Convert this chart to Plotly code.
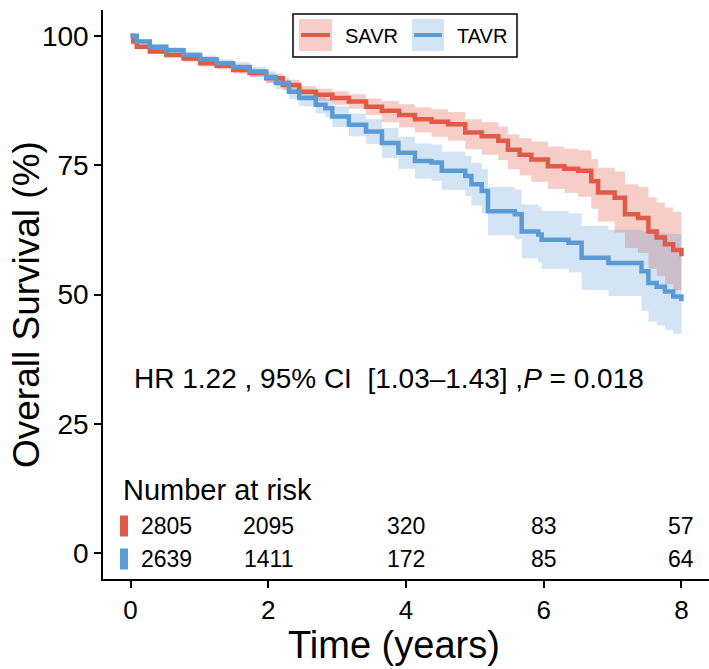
import plotly.graph_objects as go

# ---------------- data ----------------
savr_t = [0, 0.04, 0.09, 0.28, 0.52, 0.77, 1.01, 1.25, 1.49, 1.73, 1.97, 2.21, 2.45, 2.69, 2.93,
          3.17, 3.42, 3.65, 3.9, 4.13, 4.37, 4.61, 4.86, 5.1, 5.34, 5.48, 5.65, 5.82, 6.06, 6.3,
          6.5, 6.69, 6.79, 7.03, 7.18, 7.37, 7.52, 7.64, 7.76, 7.88, 8.0]
savr_s = [100, 98.9, 97.9, 97.0, 96.3, 95.6, 94.7, 94.2, 93.4, 92.8, 91.8, 90.5, 89.2, 88.6, 88.0,
          87.3, 86.3, 85.5, 84.7, 83.9, 83.4, 82.9, 81.3, 80.6, 79.7, 78.0, 77.0, 76.1, 74.8, 74.3,
          73.9, 71.9, 69.7, 68.7, 65.5, 64.8, 62.2, 61.0, 59.7, 58.6, 57.4]
savr_hi = [100, 99.3, 98.4, 97.5, 96.8, 96.2, 95.3, 94.9, 94.1, 93.6, 92.7, 91.5, 90.3, 89.8, 89.3,
           88.7, 87.9, 87.4, 86.8, 86.2, 85.8, 85.3, 83.9, 83.3, 82.5, 81.0, 80.2, 79.6, 78.6, 78.2,
           77.9, 76.2, 74.5, 73.8, 71.3, 70.8, 68.8, 67.8, 66.8, 66.0, 65.5]
savr_lo = [100, 98.5, 97.4, 96.5, 95.8, 95.0, 94.1, 93.5, 92.7, 92.0, 90.9, 89.5, 88.1, 87.4, 86.7,
           85.9, 84.7, 83.3, 82.3, 81.3, 80.5, 79.7, 78.1, 77.0, 76.0, 74.2, 73.0, 71.8, 70.4, 69.6,
           68.9, 66.6, 64.1, 62.0, 59.0, 58.0, 55.0, 53.6, 52.0, 50.8, 50.5]

tavr_t = [0, 0.09, 0.28, 0.52, 0.77, 1.01, 1.25, 1.49, 1.73, 1.97, 2.11, 2.3, 2.45, 2.69, 2.83,
          2.93, 3.17, 3.42, 3.65, 3.89, 4.13, 4.37, 4.52, 4.86, 4.95, 5.1, 5.19, 5.58, 5.68, 5.92,
          5.97, 6.36, 6.55, 6.94, 7.42, 7.52, 7.64, 7.76, 7.88, 8.0]
tavr_s = [100, 98.9, 97.9, 97.2, 96.3, 95.5, 94.7, 94.0, 93.1, 92.0, 90.9, 89.2, 88.0, 86.7, 86.0,
          84.4, 82.8, 81.5, 79.3, 77.4, 75.8, 75.5, 73.9, 72.9, 71.3, 70.0, 66.1, 65.5, 62.2, 61.6,
          60.6, 60.0, 57.1, 56.1, 54.5, 52.2, 51.5, 50.6, 49.6, 48.7]
tavr_hi = [100, 99.4, 98.4, 97.8, 96.9, 96.2, 95.5, 94.9, 94.0, 93.1, 92.1, 90.6, 89.5, 88.4, 87.8,
           86.4, 85.0, 83.9, 82.2, 80.5, 79.2, 79.0, 77.6, 76.8, 75.4, 74.3, 70.8, 70.3, 67.4, 67.0,
           66.2, 65.7, 63.3, 62.5, 62.2, 62.2, 62.0, 61.8, 61.7, 61.6]
tavr_lo = [100, 98.4, 97.4, 96.6, 95.6, 94.8, 93.9, 93.1, 92.1, 90.9, 89.7, 87.8, 86.4, 85.0, 84.2,
           82.4, 80.6, 79.1, 76.4, 74.3, 72.4, 72.0, 70.2, 69.0, 67.2, 65.7, 61.4, 60.7, 57.0, 56.2,
           55.0, 54.3, 50.9, 49.7, 46.8, 44.8, 44.0, 43.2, 42.4, 41.9]

groups = ["SAVR", "TAVR"]
risk_times = [0, 2, 4, 6, 8]
risk_savr = [2805, 2095, 320, 83, 57]
risk_tavr = [2639, 1411, 172, 85, 64]
x_ticks = [0, 2, 4, 6, 8]
y_ticks = [0, 25, 50, 75, 100]
hr_text = "HR 1.22 , 95% CI \u00a0[1.03\u20131.43] ,<i>P</i> = 0.018"
x_title = "Time (years)"
y_title = "Overall Survival (%)"

# ---------------- styles / layout geometry ----------------
RED = "rgb(224,90,71)"
BLUE = "rgb(91,155,213)"
RED_FILL = "rgba(224,90,71,0.30)"
BLUE_FILL = "rgba(91,155,213,0.27)"
FONT = "Arial, 'Liberation Sans', sans-serif"

W, H = 709, 669
ML, MR, MT, MB = 103, 0, 10, 90
PW, PH = W - ML - MR, H - MT - MB
XR = [-0.4, 8.4]
YR = [-5, 105]


def dx(px):
    return XR[0] + (px - ML) / PW * (XR[1] - XR[0])


def dy(py):
    return YR[1] - (py - MT) / PH * (YR[1] - YR[0])


def paper_x(px):
    return (px - ML) / PW


def paper_y(py):
    return (H - MB - py) / PH


fig = go.Figure()

# confidence bands
for t, lo, hi, fillc in [(savr_t, savr_lo, savr_hi, RED_FILL), (tavr_t, tavr_lo, tavr_hi, BLUE_FILL)]:
    fig.add_trace(go.Scatter(x=t, y=lo, mode="lines", line=dict(width=0, shape="hv"),
                             showlegend=False, hoverinfo="skip"))
    fig.add_trace(go.Scatter(x=t, y=hi, mode="lines", line=dict(width=0, shape="hv"),
                             fill="tonexty", fillcolor=fillc, showlegend=False, hoverinfo="skip"))

# survival curves
fig.add_trace(go.Scatter(x=savr_t, y=savr_s, mode="lines", name=groups[0],
                         line=dict(color=RED, width=4.5, shape="hv"), showlegend=False))
fig.add_trace(go.Scatter(x=tavr_t, y=tavr_s, mode="lines", name=groups[1],
                         line=dict(color=BLUE, width=4.5, shape="hv"), showlegend=False))

# number-at-risk colour keys
row_y = [dy(526), dy(559)]
fig.add_trace(go.Scatter(x=[dx(124), dx(124)], y=row_y, mode="markers",
                         marker=dict(symbol="line-ns", size=15,
                                     line=dict(width=8, color=[RED, BLUE])),
                         showlegend=False, hoverinfo="skip"))

annotations = []
# number-at-risk table
annotations.append(dict(x=dx(121), y=dy(490), xref="x", yref="y", text="Number at risk",
                        showarrow=False, xanchor="left", yanchor="middle",
                        font=dict(size=29, color="black", family=FONT)))
for vals, yy in [(risk_savr, row_y[0]), (risk_tavr, row_y[1])]:
    for i, (tt, v) in enumerate(zip(risk_times, vals)):
        if i == 0:
            annotations.append(dict(x=dx(139), y=yy, xref="x", yref="y", text=str(v),
                                    showarrow=False, xanchor="left", yanchor="middle",
                                    font=dict(size=23, color="black", family=FONT)))
        else:
            annotations.append(dict(x=tt, y=yy, xref="x", yref="y", text=str(v),
                                    showarrow=False, xanchor="center", yanchor="middle",
                                    font=dict(size=23, color="black", family=FONT)))

# HR annotation
annotations.append(dict(x=dx(132), y=dy(378), xref="x", yref="y", text=hr_text,
                        showarrow=False, xanchor="left", yanchor="middle",
                        font=dict(size=28, color="black", family=FONT)))

# axis titles
annotations.append(dict(x=paper_x(394), y=paper_y(645), xref="paper", yref="paper", text=x_title,
                        showarrow=False, xanchor="center", yanchor="middle",
                        font=dict(size=38, color="black", family=FONT)))
annotations.append(dict(x=paper_x(27), y=paper_y(305), xref="paper", yref="paper", text=y_title,
                        textangle=-90, showarrow=False, xanchor="center", yanchor="middle",
                        font=dict(size=37, color="black", family=FONT)))

# custom legend (box with filled key + line)
shapes = []
shapes.append(dict(type="rect", xref="x", yref="y", x0=dx(293), x1=dx(517), y0=dy(57), y1=dy(14),
                   line=dict(color="black", width=1.5), fillcolor="white", layer="above"))
for (kx0, kx1, col, fillc, tx, name) in [(299, 332, RED, RED_FILL, 343, groups[0]),
                                         (412, 444, BLUE, BLUE_FILL, 455, groups[1])]:
    shapes.append(dict(type="rect", xref="x", yref="y", x0=dx(kx0), x1=dx(kx1), y0=dy(51), y1=dy(19),
                       line=dict(width=0), fillcolor=fillc, layer="above"))
    shapes.append(dict(type="line", xref="x", yref="y", x0=dx(kx0 + 2), x1=dx(kx1 - 2),
                       y0=dy(35), y1=dy(35), line=dict(color=col, width=4), layer="above"))
    annotations.append(dict(x=dx(tx), y=dy(35.5), xref="x", yref="y", text=name, showarrow=False,
                            xanchor="left", yanchor="middle",
                            font=dict(size=20, color="black", family=FONT)))

fig.update_layout(
    width=W, height=H,
    margin=dict(l=ML, r=MR, t=MT, b=MB, pad=0),
    paper_bgcolor="white", plot_bgcolor="white",
    font=dict(family=FONT, color="black"),
    showlegend=False,
    annotations=annotations,
    shapes=shapes,
    xaxis=dict(range=XR, tickvals=x_ticks, ticktext=[str(v) for v in x_ticks],
               showgrid=False, zeroline=False, showline=True, linecolor="black", linewidth=1.6,
               ticks="outside", ticklen=7, tickwidth=1.6, tickcolor="black",
               tickfont=dict(size=26, color="black", family=FONT)),
    yaxis=dict(range=YR, tickvals=y_ticks, ticktext=[str(v) for v in y_ticks],
               showgrid=False, zeroline=False, showline=True, linecolor="black", linewidth=1.6,
               ticks="outside", ticklen=7, tickwidth=1.6, tickcolor="black",
               tickfont=dict(size=28, color="black", family=FONT)),
)

fig.write_html("out.html", config={"displayModeBar": False},
               post_script="document.body.style.margin='0px';document.body.style.padding='0px';")
